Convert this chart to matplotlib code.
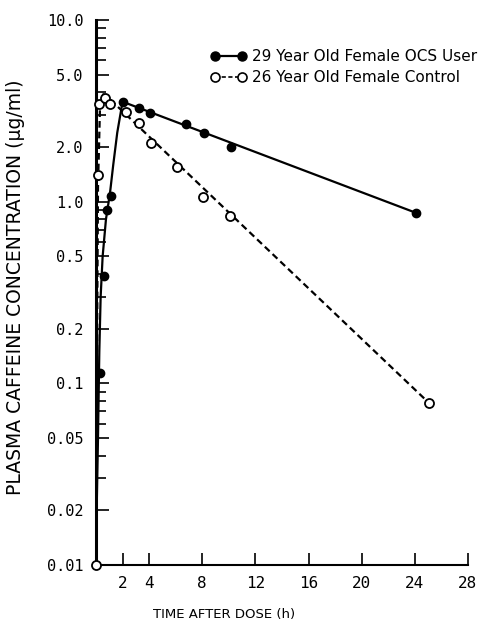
import numpy as np
import matplotlib
matplotlib.use("Agg")
import matplotlib.pyplot as plt
from matplotlib.ticker import FixedLocator, FixedFormatter, NullFormatter

ocs_t = [0.3, 0.63, 0.8, 1.1, 2.05, 3.24, 4.09, 6.75, 8.13, 10.16, 24.05]
ocs_c = [0.114, 0.39, 0.90, 1.08, 3.55, 3.29, 3.06, 2.66, 2.38, 2.01, 0.87]

ctrl_t = [0.0, 0.17, 0.25, 0.68, 1.05, 2.23, 3.24, 4.11, 6.07, 8.08, 10.08, 25.06]
ctrl_c = [0.01, 1.40, 3.47, 3.70, 3.45, 3.12, 2.70, 2.11, 1.56, 1.06, 0.83, 0.078]

# Drawn fit curves
ocs_fit_t = [0.0, 0.05, 0.15, 0.25, 0.35, 0.5, 0.75, 1.05, 1.3, 1.6, 2.0, 24.05]
ocs_fit_c = [0.01, 0.02, 0.05, 0.15, 0.3, 0.5, 0.8, 1.11, 1.6, 2.4, 3.55, 0.87]

ctrl_fit_t = [0.0, 0.05, 0.1, 0.15, 0.3, 0.55, 0.9, 25.06]
ctrl_fit_c = [0.01, 0.05, 0.3, 1.2, 3.3, 3.9, 3.75, 0.078]

x_ticks = [2, 4, 8, 12, 16, 20, 24, 28]
y_ticks = [0.01, 0.02, 0.05, 0.1, 0.2, 0.5, 1.0, 2.0, 5.0, 10.0]
y_labels = ["0.01", "0.02", "0.05", "0.1", "0.2", "0.5", "1.0", "2.0", "5.0", "10.0"]

fig = plt.figure(figsize=(4.81, 6.28), dpi=100)
ax = fig.add_axes([96/481, 1 - 565/628, 372/481, 545/628])

ax.set_yscale("log")
ax.set_xlim(0, 28)
ax.set_ylim(0.01, 10)

# curves
ax.plot(ocs_fit_t, ocs_fit_c, color="black", lw=1.6, solid_capstyle="butt")
ax.plot(ctrl_fit_t, ctrl_fit_c, color="black", lw=1.6, linestyle=(0, (3, 1.8)))

# points
ax.plot(ocs_t, ocs_c, "o", color="black", ms=6, clip_on=False, zorder=4)
ax.plot(ctrl_t, ctrl_c, "o", mfc="white", mec="black", mew=1.3, ms=6.5,
        clip_on=False, zorder=4)

# legend proxies
h1, = ax.plot([], [], "-o", color="black", lw=1.6, ms=6.5)
h2, = ax.plot([], [], "o", mfc="white", mec="black", mew=1.2, ms=6.5,
              linestyle=(0, (2.5, 1.5)), color="black", lw=1.2)
ax.legend([h1, h2], ["29 Year Old Female OCS User", "26 Year Old Female Control"],
          loc="upper left", bbox_to_anchor=(0.29, 0.958), frameon=False,
          numpoints=2, handlelength=2.4, handletextpad=0.35, labelspacing=0.4,
          prop={"family": "DejaVu Sans", "size": 11}, borderaxespad=0)

# axes styling
for s in ["top", "right"]:
    ax.spines[s].set_visible(False)
ax.spines["left"].set_linewidth(2.2)
ax.spines["bottom"].set_linewidth(1.5)

ax.xaxis.set_major_locator(FixedLocator(x_ticks))
ax.set_xticklabels([str(v) for v in x_ticks])
ax.yaxis.set_major_locator(FixedLocator(y_ticks))
ax.yaxis.set_major_formatter(FixedFormatter(y_labels))
ax.yaxis.set_minor_locator(matplotlib.ticker.LogLocator(base=10, subs=[3, 4, 6, 7, 8, 9]))
ax.yaxis.set_minor_formatter(NullFormatter())

ax.tick_params(axis="x", direction="in", length=9, width=1.2, pad=8,
               labelsize=11.5)
ax.tick_params(axis="y", which="major", direction="in", length=9, width=1.2,
               pad=9, labelsize=11)
ax.tick_params(axis="y", which="minor", direction="in", length=7, width=1.2)
for lab in ax.get_xticklabels() + ax.get_yticklabels():
    lab.set_family("DejaVu Sans Mono")

ax.set_xlabel("TIME AFTER DOSE (h)", fontsize=9.5)
ax.xaxis.set_label_coords(0.344, -0.079)
ax.set_ylabel("PLASMA CAFFEINE CONCENTRATION (\u03bcg/ml)", fontsize=13.5)
ax.yaxis.set_label_coords(-0.19, 0.51)

fig.savefig("out.png", dpi=100)
